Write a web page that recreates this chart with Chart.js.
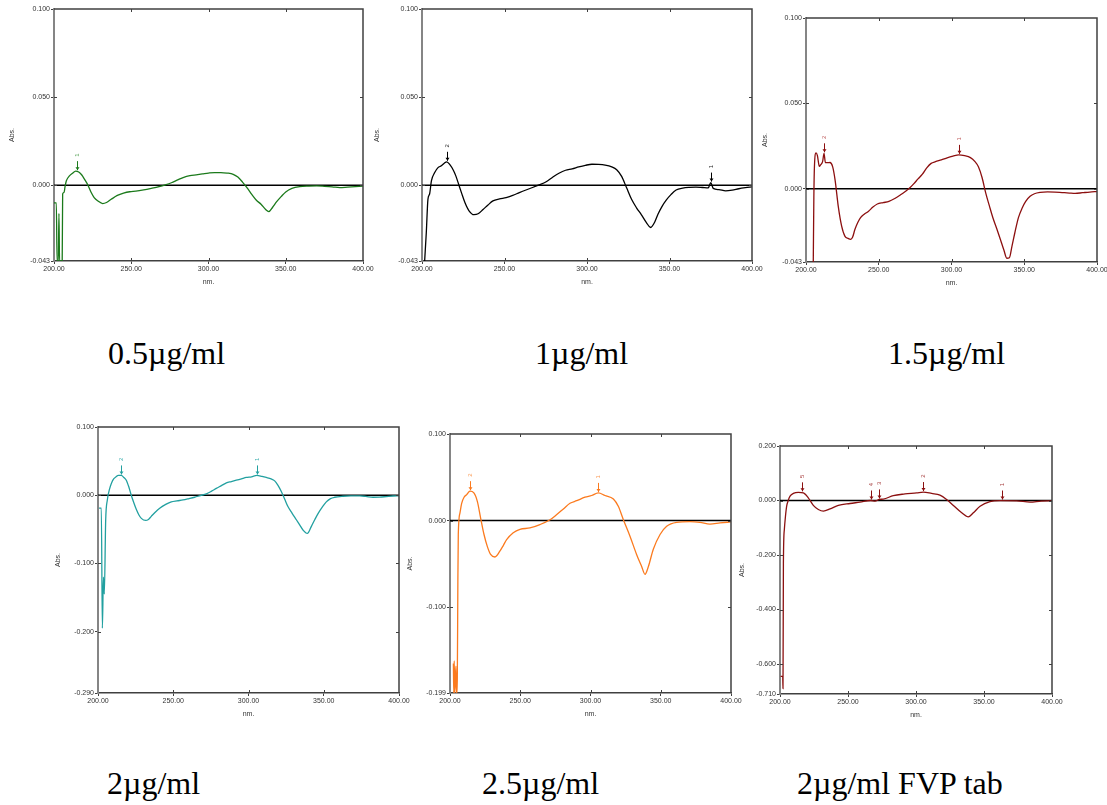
<!DOCTYPE html>
<html lang="en">
<head>
<meta charset="UTF-8">
<script src="https://cdn.jsdelivr.net/npm/chart.js@4.4.0/dist/chart.umd.min.js"></script>
<style>
    body {
        margin: 0;
        width: 1107px;
        height: 805px;
        background: #fff;
        position: relative;
        overflow: hidden;
    }
    .panel {
        position: absolute;
    }
    .caption {
        position: absolute;
        font-family: "Liberation Serif", "Times New Roman", serif;
        font-size: 32px;
        line-height: 32px;
        color: #000;
        white-space: nowrap;
    }
</style>
<title>UV spectra</title>
</head>
<body>
<script>
// wavelength tick labels (nm)
const nmTicks = [200, 250, 300, 350, 400];

// 0.5 ug/ml
const wl05 = [200, 201.5, 202, 202.8, 203.2, 203.6, 205.3, 205.6, 206.5, 207.2, 208, 210, 212, 214, 216, 218, 220, 222, 224, 226, 228.5, 231.5, 234, 237, 241, 245, 249, 253, 258, 263, 268, 272, 276, 280, 284, 288, 292, 296, 300, 304, 308, 312, 316, 319, 322, 325, 328, 331, 334, 337, 339, 341.5, 344, 347, 350, 354, 359, 365, 370, 375, 380, 385, 390, 395, 400];
const abs05 = [-0.010, -0.010, -0.043, -0.043, -0.016, -0.043, -0.043, -0.005, -0.004, -0.0005, 0.0025, 0.0053, 0.0068, 0.008, 0.0075, 0.0058, 0.003, 0, -0.004, -0.007, -0.009, -0.0104, -0.0098, -0.008, -0.0058, -0.0045, -0.0037, -0.0034, -0.0027, -0.0018, -0.0008, 0.0002, 0.0014, 0.0030, 0.0045, 0.0054, 0.0059, 0.0064, 0.0069, 0.0072, 0.0072, 0.0069, 0.0062, 0.0046, 0.0018, -0.0015, -0.0052, -0.0085, -0.0108, -0.0138, -0.015, -0.0125, -0.0095, -0.0065, -0.0038, -0.0018, -0.0008, -0.0005, -0.0004, -0.0006, -0.0009, -0.0014, -0.0011, -0.0008, -0.0005];
const yTicks05 = [-0.043, 0, 0.05, 0.1];
const peaks05 = [[215, 0.008, '1']];

// 1 ug/ml
const wl1 = [201.6, 202.6, 203.6, 204.6, 205.7, 207.7, 209.7, 211.7, 213.5, 215, 217, 219, 220.5, 222.4, 224, 226, 228.5, 231.5, 234, 237, 240, 243, 247, 251, 255, 259, 263, 267, 271, 275, 279, 283, 287, 291, 295, 299, 303, 307, 311, 315, 318, 321, 324, 327, 330, 333, 336, 338.6, 341, 343, 345.5, 348, 351, 354, 358, 362, 366, 370, 373.5, 375, 376.5, 380, 384, 388, 392, 396, 400];
const abs1 = [-0.043, -0.027, -0.008, -0.005, 0.0025, 0.0072, 0.010, 0.011, 0.0125, 0.0133, 0.0115, 0.0085, 0.0053, 0, -0.0045, -0.0098, -0.0145, -0.0167, -0.0162, -0.0138, -0.0112, -0.0089, -0.0078, -0.0070, -0.0058, -0.0042, -0.0027, -0.0013, 0.0002, 0.0018, 0.0044, 0.0068, 0.0085, 0.0093, 0.0104, 0.0113, 0.0119, 0.0118, 0.0114, 0.0104, 0.0088, 0.0050, -0.0015, -0.008, -0.0128, -0.0168, -0.0212, -0.024, -0.021, -0.0165, -0.0120, -0.0085, -0.0052, -0.0027, -0.0016, -0.0012, -0.0011, -0.0013, -0.0015, 0.0015, -0.0018, -0.0025, -0.0032, -0.0028, -0.0020, -0.0014, -0.0009];
const yTicks1 = [-0.043, 0, 0.05, 0.1];
const peaks1 = [[215, 0.0133, '2'], [375, 0.0015, '1']];

// 1.5 ug/ml
const wl15 = [205, 205.4, 205.8, 206.9, 207.8, 209.2, 210, 211.4, 212.4, 213.3, 215, 216.5, 218.3, 220, 222.2, 224.5, 226.8, 229, 230.7, 232, 233.6, 235.5, 237.5, 240, 243, 246, 249, 253, 257, 261, 265, 268, 271, 274, 277, 280, 283, 286, 289, 293, 297, 301, 305, 309, 313, 316, 318.5, 321, 323.5, 326, 328.5, 331, 333.5, 336, 338, 339.8, 341.5, 343.5, 346, 348.5, 351, 354, 357, 361, 366, 371, 376, 381, 385, 390, 395, 400];
const abs15 = [-0.043, -0.005, 0.013, 0.021, 0.0195, 0.013, 0.0139, 0.0158, 0.0207, 0.0153, 0.0152, 0.0153, 0.0129, 0.005, -0.0106, -0.022, -0.028, -0.0292, -0.0297, -0.0285, -0.024, -0.020, -0.0170, -0.0150, -0.0132, -0.0108, -0.0090, -0.0082, -0.0075, -0.0058, -0.0036, -0.0018, 0.0002, 0.0028, 0.0057, 0.0085, 0.0122, 0.0148, 0.0158, 0.0168, 0.0180, 0.0190, 0.0198, 0.0193, 0.0182, 0.0160, 0.0128, 0.0065, -0.0025, -0.0100, -0.0172, -0.0232, -0.0295, -0.0360, -0.0408, -0.0405, -0.0340, -0.0260, -0.0170, -0.0115, -0.0075, -0.0045, -0.0030, -0.0022, -0.0019, -0.0020, -0.0023, -0.0026, -0.0028, -0.0024, -0.0020, -0.0017];
const yTicks15 = [-0.043, 0, 0.05, 0.1];
const peaks15 = [[212.4, 0.0207, '2'], [305, 0.0198, '1']];

// 2 ug/ml
const wl2 = [200.7, 202.2, 202.9, 203.6, 204.2, 205.1, 206.2, 207.8, 209, 210.4, 212, 213.5, 215.5, 217.2, 218.8, 220.5, 222.1, 223.8, 225.5, 227.2, 228.8, 231.7, 233.5, 235.4, 238, 241, 245, 248.7, 252.5, 256.5, 260.5, 264.2, 268, 272, 275.5, 278.6, 282, 285.3, 288.6, 291.9, 295.3, 298.6, 302, 305.6, 309, 311.8, 315, 317.4, 319.6, 321.8, 324, 326.2, 329, 331.8, 334, 336.2, 339.1, 341.7, 344, 346.2, 349, 351.7, 354.5, 357.2, 362.8, 368, 373.9, 378, 382.7, 387, 391.6, 396, 400];
const abs2 = [-0.019, -0.019, -0.195, -0.12, -0.145, -0.037, -0.007, 0.010, 0.018, 0.024, 0.027, 0.029, 0.029, 0.026, 0.022, 0.012, 0, -0.011, -0.021, -0.029, -0.034, -0.037, -0.0355, -0.031, -0.025, -0.019, -0.0135, -0.0098, -0.0083, -0.007, -0.005, -0.003, -0.0005, 0.002, 0.006, 0.010, 0.014, 0.018, 0.020, 0.022, 0.024, 0.026, 0.027, 0.029, 0.0275, 0.026, 0.024, 0.021, 0.0145, 0.0055, -0.0055, -0.0166, -0.0265, -0.036, -0.0435, -0.051, -0.056, -0.046, -0.036, -0.027, -0.0175, -0.0098, -0.005, -0.003, -0.0015, -0.001, -0.001, -0.0018, -0.003, -0.0028, -0.002, -0.0012, -0.001];
const yTicks2 = [-0.29, -0.2, -0.1, 0, 0.1];
const peaks2 = [[215.5, 0.029, '2'], [305.6, 0.029, '1']];

// 2.5 ug/ml
const wl25 = [202.4, 202.7, 203.0, 203.4, 204.2, 204.6, 205.2, 205.6, 205.9, 207.1, 208.3, 210, 211.9, 214.2, 217, 219.5, 221.8, 224.2, 226.6, 228.9, 232, 235.6, 238, 240.3, 245, 249.8, 256.9, 264, 271.2, 276, 280.7, 285.4, 290.2, 296.1, 300.8, 305.6, 310.3, 316.3, 319.8, 323.4, 328.1, 332.8, 336.4, 338.8, 341.2, 344.7, 349.5, 354.2, 361.3, 370.8, 377.9, 385, 392.2, 400];
const abs25 = [-0.165, -0.199, -0.162, -0.199, -0.168, -0.199, -0.183, -0.07, -0.016, 0.009, 0.020, 0.027, 0.030, 0.034, 0.032, 0.022, 0.003, -0.016, -0.030, -0.039, -0.042, -0.035, -0.0285, -0.022, -0.014, -0.010, -0.0085, -0.0046, 0.001, 0.007, 0.0135, 0.020, 0.023, 0.027, 0.029, 0.032, 0.029, 0.025, 0.0165, 0.001, -0.018, -0.039, -0.053, -0.062, -0.053, -0.033, -0.016, -0.0065, -0.002, -0.0012, -0.002, -0.004, -0.0027, -0.0015];
const yTicks25 = [-0.199, -0.1, 0, 0.1];
const peaks25 = [[214.2, 0.034, '2'], [305.6, 0.032, '1']];

// 2 ug/ml FVP tablet
const wlTab = [200.5, 202, 202.2, 202.5, 203.2, 203.9, 204.9, 206.1, 207.4, 209.8, 213.5, 217.2, 220.8, 224.5, 228.2, 231.9, 236.8, 242.9, 251.5, 258.8, 266.7, 270, 273, 276, 283.3, 291.9, 300.5, 305.4, 311.5, 317.6, 322.5, 327.5, 333.6, 338.5, 342.2, 347.1, 354.4, 361.8, 374, 383.8, 392, 400];
const absTab = [-0.645, -0.645, -0.69, -0.23, -0.106, -0.064, -0.021, 0.001, 0.016, 0.026, 0.030, 0.028, 0.0098, -0.018, -0.033, -0.039, -0.031, -0.018, -0.011, -0.006, 0, -0.002, 0.004, 0.005, 0.018, 0.024, 0.028, 0.031, 0.026, 0.020, 0.004, -0.018, -0.045, -0.060, -0.045, -0.021, -0.004, -0.0005, -0.001, -0.006, -0.002, -0.001];
const yTicksTab = [-0.71, -0.6, -0.4, -0.2, 0, 0.2];
const peaksTab = [[216, 0.030, '5'], [267, 0, '4'], [273, 0.004, '3'], [305.4, 0.031, '2'], [363, 0, '1']];

const captions = ['0.5µg/ml', '1µg/ml', '1.5µg/ml', '2µg/ml', '2.5µg/ml', '2µg/ml FVP tab'];

// plot-area placement and styling per panel
const panels = [
    { wl: wl05, abs: abs05, ticks: yTicks05, peaks: peaks05, left: 54, top: 9, w: 309, h: 252, tp: 4, color: '#1b7a1b', mark: '#4f9f4f', capX: 108, capY: 337 },
    { wl: wl1, abs: abs1, ticks: yTicks1, peaks: peaks1, left: 422, top: 9, w: 330, h: 252, tp: 1, color: '#000000', mark: '#222222', capX: 535, capY: 337 },
    { wl: wl15, abs: abs15, ticks: yTicks15, peaks: peaks15, left: 806, top: 18, w: 291, h: 244, tp: 5, color: '#8c0f0f', mark: '#c06060', capX: 888, capY: 337 },
    { wl: wl2, abs: abs2, ticks: yTicks2, peaks: peaks2, left: 98, top: 427, w: 301, h: 266, tp: 6, color: '#22a0a0', mark: '#3fb0b0', capX: 107, capY: 767 },
    { wl: wl25, abs: abs25, ticks: yTicks25, peaks: peaks25, left: 450, top: 434, w: 281, h: 259, tp: 6, color: '#fb7a1e', mark: '#fb9a55', capX: 482, capY: 767 },
    { wl: wlTab, abs: absTab, ticks: yTicksTab, peaks: peaksTab, left: 780, top: 446, w: 272, h: 248, tp: 8, color: '#8b1010', mark: '#a84040', capX: 797, capY: 767 }
];

const smallFont = { family: 'Liberation Sans, Arial, sans-serif', size: 7 };
const textColor = '#333';
const Y_W = 50;

// closes the frame and adds inward tick marks
const framePlugin = {
    id: 'frame',
    afterDraw(chart) {
        const { ctx, chartArea: a, scales } = chart;
        ctx.save();
        ctx.strokeStyle = '#404040';
        ctx.lineWidth = 1.5;
        ctx.beginPath();
        ctx.moveTo(a.left, a.top);
        ctx.lineTo(a.right, a.top);
        ctx.lineTo(a.right, a.bottom);
        ctx.stroke();
        ctx.lineWidth = 1;
        ctx.beginPath();
        scales.x.ticks.forEach(t => {
            if (t.value <= 200 || t.value >= 400) return;
            const px = Math.round(scales.x.getPixelForValue(t.value)) + 0.5;
            ctx.moveTo(px, a.top); ctx.lineTo(px, a.top + 3);
            ctx.moveTo(px, a.bottom); ctx.lineTo(px, a.bottom - 3);
        });
        scales.y.ticks.forEach(t => {
            if (t.value <= scales.y.min || t.value >= scales.y.max) return;
            const py = Math.round(scales.y.getPixelForValue(t.value)) + 0.5;
            ctx.moveTo(a.left, py); ctx.lineTo(a.left + 3, py);
            ctx.moveTo(a.right, py); ctx.lineTo(a.right - 3, py);
        });
        ctx.stroke();
        ctx.restore();
    }
};

// peak pick arrows with rotated numbers
const peakPlugin = {
    id: 'peaks',
    afterDatasetsDraw(chart, args, opts) {
        const { ctx, scales } = chart;
        ctx.save();
        opts.peaks.forEach(([wl, a, label]) => {
            const px = Math.round(scales.x.getPixelForValue(wl)) + 0.5;
            const py = scales.y.getPixelForValue(a);
            ctx.strokeStyle = opts.color;
            ctx.fillStyle = opts.color;
            ctx.lineWidth = 1;
            ctx.beginPath();
            ctx.moveTo(px, py - 1);
            ctx.lineTo(px, py - 10);
            ctx.stroke();
            ctx.beginPath();
            ctx.moveTo(px - 2, py - 4);
            ctx.lineTo(px + 2, py - 4);
            ctx.lineTo(px, py - 1);
            ctx.closePath();
            ctx.fill();
            ctx.fillStyle = opts.mark;
            ctx.font = '6px Liberation Sans, Arial, sans-serif';
            ctx.textAlign = 'center';
            ctx.textBaseline = 'middle';
            ctx.translate(px, py - 16);
            ctx.rotate(-Math.PI / 2);
            ctx.fillText(label, 0, 0);
            ctx.setTransform(1, 0, 0, 1, 0, 0);
        });
        ctx.restore();
    }
};

panels.forEach((p, i) => {
    const wrap = document.createElement('div');
    wrap.className = 'panel';
    wrap.style.left = (p.left - Y_W) + 'px';
    wrap.style.top = (p.top - 10) + 'px';
    const canvas = document.createElement('canvas');
    canvas.width = p.w + Y_W + 14;
    canvas.height = p.h + 10 + 28;
    wrap.appendChild(canvas);
    document.body.appendChild(wrap);

    const cap = document.createElement('div');
    cap.className = 'caption';
    cap.style.left = p.capX + 'px';
    cap.style.top = p.capY + 'px';
    cap.textContent = captions[i];
    document.body.appendChild(cap);

    const yMin = p.ticks[0];
    const yMax = p.ticks[p.ticks.length - 1];

    new Chart(canvas, {
        type: 'line',
        data: {
            datasets: [
                {
                    data: p.wl.map((x, k) => ({ x: x, y: p.abs[k] })),
                    borderColor: p.color,
                    borderWidth: 1.3,
                    pointRadius: 0,
                    cubicInterpolationMode: 'monotone'
                },
                {
                    data: [{ x: 200, y: 0 }, { x: 400, y: 0 }],
                    borderColor: '#000',
                    borderWidth: 1.5,
                    pointRadius: 0
                }
            ]
        },
        options: {
            responsive: false,
            animation: false,
            events: [],
            layout: { padding: { left: 0, top: 10, right: 14, bottom: 0 } },
            plugins: {
                legend: { display: false },
                tooltip: { enabled: false },
                peaks: { peaks: p.peaks, color: p.color, mark: p.mark }
            },
            scales: {
                x: {
                    type: 'linear',
                    min: 200,
                    max: 400,
                    afterBuildTicks: s => { s.ticks = nmTicks.map(v => ({ value: v })); },
                    afterFit: s => { s.height = 28; },
                    ticks: {
                        font: smallFont, color: textColor, padding: 1,
                        autoSkip: false, maxRotation: 0,
                        callback: v => Number(v).toFixed(2)
                    },
                    grid: { drawOnChartArea: false, tickLength: 3, color: '#404040' },
                    border: { color: '#404040', width: 1.5 },
                    title: { display: true, text: 'nm.', font: smallFont, color: textColor, padding: { top: 0, bottom: 3 } }
                },
                y: {
                    type: 'linear',
                    min: yMin,
                    max: yMax,
                    afterBuildTicks: s => { s.ticks = p.ticks.map(v => ({ value: v })); },
                    afterFit: s => { s.width = Y_W; },
                    ticks: {
                        font: smallFont, color: textColor, padding: 1,
                        autoSkip: false,
                        callback: v => Number(v).toFixed(3)
                    },
                    grid: { drawOnChartArea: false, tickLength: 3, color: '#404040' },
                    border: { color: '#858585', width: 2 },
                    title: { display: true, text: 'Abs.', font: smallFont, color: textColor, padding: { top: p.tp, bottom: 0 } }
                }
            }
        },
        plugins: [framePlugin, peakPlugin]
    });
});
</script>
</body>
</html>
